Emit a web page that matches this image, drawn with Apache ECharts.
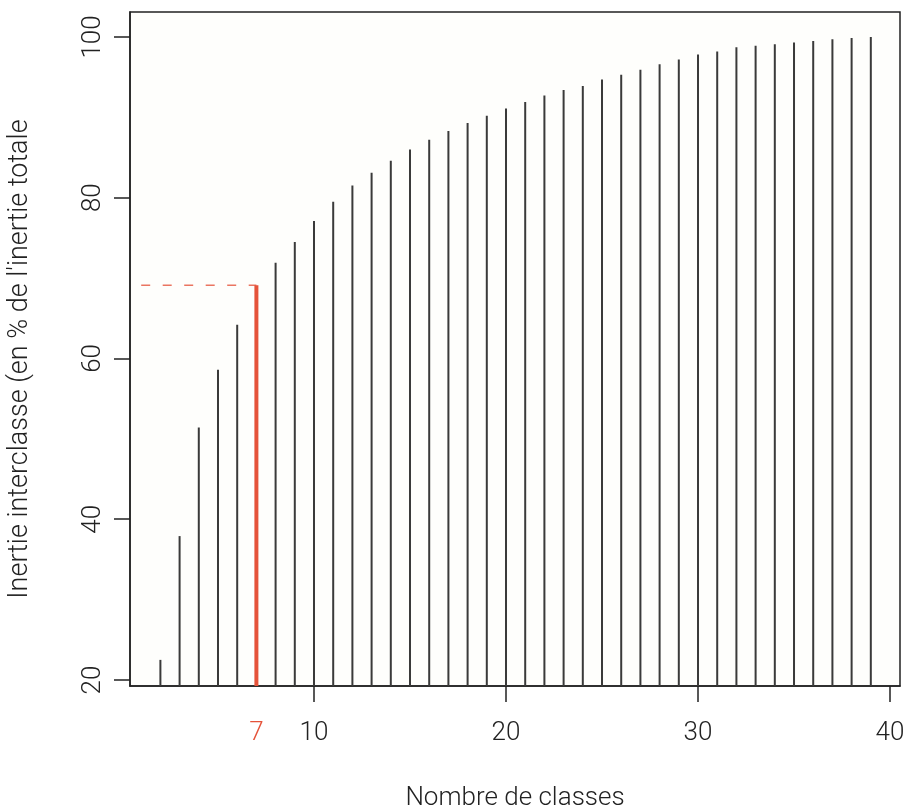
<!DOCTYPE html>
<html>
<head>
<meta charset="utf-8">
<script src="https://cdn.jsdelivr.net/npm/echarts@6/dist/echarts.min.js"></script>
<style>
html,body{margin:0;padding:0;background:#ffffff;}
#chart{width:909px;height:808px;}
</style>
</head>
<body>
<div id="chart"></div>
<script>
// Number of classes (x) and between-class inertia (% of total inertia)
const nbClasses = [2,3,4,5,6,7,8,9,10,11,12,13,14,15,16,17,18,19,20,21,22,23,24,25,26,27,28,29,30,31,32,33,34,35,36,37,38,39];
const inertie = [22.5,37.9,51.4,58.6,64.2,69.1,71.9,74.5,77.1,79.5,81.5,83.1,84.6,86.0,87.2,88.3,89.3,90.2,91.1,91.9,92.7,93.4,93.9,94.7,95.3,95.9,96.6,97.2,97.8,98.2,98.7,98.9,99.1,99.3,99.5,99.7,99.85,100.0];
const chosenK = 7;
const dashStartX = 1;
const xTickValues = [10,20,30,40];
const xLabelValues = [7,10,20,30,40];
const yTickValues = [20,40,60,80,100];

const X_MIN = 0.417, X_MAX = 40.52;
const Y_MIN = 19.25, Y_MAX = 103.1;
const FONT = 'Roboto';
const TXT = '#222222';
const RED = '#e5533a';

const chosenVal = inertie[nbClasses.indexOf(chosenK)];
const seriesData = nbClasses.map((k, i) => [k, inertie[i]]);

const chart = echarts.init(document.getElementById('chart'), null, {renderer: 'canvas'});
chart.setOption({
  backgroundColor: '#ffffff',
  animation: false,
  grid: {
    left: 130, right: 9, top: 12, bottom: 122,
    outerBoundsMode: 'none', containLabel: false,
    show: true, backgroundColor: '#fefefc', borderColor: '#222', borderWidth: 1.5
  },
  xAxis: {
    type: 'value', min: X_MIN, max: X_MAX,
    name: 'Nombre de classes', nameLocation: 'middle', nameGap: 99,
    nameTextStyle: {fontFamily: FONT, fontWeight: 300, fontSize: 26, color: TXT},
    axisLine: {show: true, onZero: false, lineStyle: {color: '#222', width: 1.5}},
    axisTick: {show: true, length: 16, customValues: xTickValues, lineStyle: {color: '#222', width: 1.5}},
    axisLabel: {
      customValues: xLabelValues, margin: 34,
      fontFamily: FONT, fontWeight: 300, fontSize: 26, color: TXT,
      formatter: v => v === chosenK ? '{r|' + v + '}' : String(v),
      rich: {r: {color: RED, fontFamily: FONT, fontWeight: 300, fontSize: 26}}
    },
    splitLine: {show: false}
  },
  yAxis: {
    type: 'value', min: Y_MIN, max: Y_MAX,
    name: "Inertie interclasse (en % de l'inertie totale", nameLocation: 'middle', nameGap: 96,
    nameRotate: 90,
    nameTextStyle: {fontFamily: FONT, fontWeight: 300, fontSize: 27, color: TXT, padding: [0, 20, 0, 0]},
    axisLine: {show: true, lineStyle: {color: '#222', width: 1.5}},
    axisTick: {show: true, length: 16, customValues: yTickValues, lineStyle: {color: '#222', width: 1.5}},
    axisLabel: {
      customValues: yTickValues, rotate: 90, margin: 24,
      fontFamily: FONT, fontWeight: 300, fontSize: 26, color: TXT
    },
    splitLine: {show: false}
  },
  series: [
    {
      type: 'custom',
      data: seriesData,
      clip: true,
      renderItem: function (params, api) {
        const x = api.value(0), v = api.value(1);
        const top = api.coord([x, v]);
        const bot = api.coord([x, Y_MIN]);
        const isChosen = x === chosenK;
        return {
          type: 'line',
          shape: {x1: top[0], y1: top[1], x2: bot[0], y2: bot[1]},
          style: {stroke: isChosen ? RED : '#3a3a3a', lineWidth: isChosen ? 4 : 2}
        };
      }
    },
    {
      type: 'line',
      data: [[dashStartX, chosenVal], [chosenK, chosenVal]],
      symbol: 'none',
      lineStyle: {color: RED, width: 1.5, type: [9, 12.5], opacity: 0.8}
    }
  ]
});
</script>
</body>
</html>
